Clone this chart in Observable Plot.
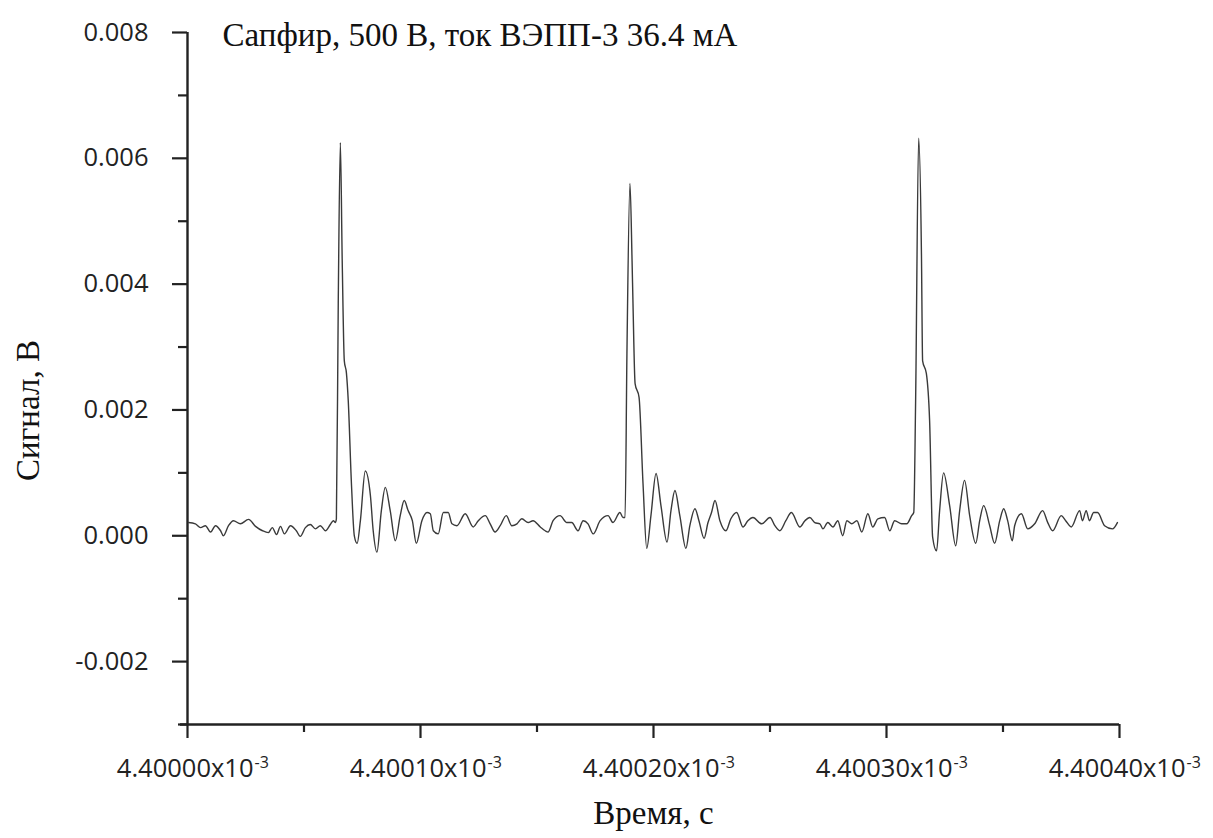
<!DOCTYPE html>
<html>
<head>
<meta charset="utf-8">
<script src="https://cdn.jsdelivr.net/npm/d3@7"></script>
<script src="https://cdn.jsdelivr.net/npm/@observablehq/plot@0.6"></script>
<style>
  html, body { margin: 0; padding: 0; background: #fff; }
  #chart svg { display: block; }
</style>
</head>
<body>
<div id="chart"></div>
<script>
// Time offset from 4.40000x10^-3 s, in nanoseconds
const timeNs = [
  0.4, 3.4, 5.6, 7.7, 9.9, 12.0, 14.2, 15.4, 17.6, 19.7, 22.7, 26.2, 29.2, 32.2, 34.7, 36.4, 38.2, 39.9, 41.6, 44.2,
  46.7, 48.4, 50.6, 52.7, 54.9, 57.0, 59.2, 61.3, 62.6, 63.5,
  63.9, 64.7, 65.6, 66.4, 67.3, 68.2, 69.0, 70.3, 71.6, 72.8, 74.2, 76.3, 78.5, 79.7, 81.3, 83.2, 84.9, 87.0, 89.2,
  91.3, 93.0, 94.7, 96.5, 98.2, 100.6, 102.8, 104.2, 105.5, 107.6, 109.8, 111.9, 113.5, 115.6, 119.2, 122.6, 124.8,
  127.8, 129.9, 132.0, 134.2, 136.8, 139.2, 141.4, 143.5, 146.2, 148.3, 151.4, 153.5, 154.8, 156.9, 159.9, 162.8,
  164.9, 167.6, 169.8, 171.9, 174.1, 177.1, 180.5, 182.6, 185.6, 186.9,
  187.8, 188.6, 189.9, 190.8, 191.2, 192.1, 193.8, 195.5, 197.1, 198.9, 201.1, 203.2, 205.8, 207.5, 209.2, 211.3,
  213.9, 215.6, 217.8, 219.5, 221.7, 223.4, 224.9, 226.4, 228.5, 231.1, 233.2, 235.7, 238.4, 240.5, 242.7, 246.4,
  250.0, 252.1, 254.2, 256.8, 259.2, 262.8, 265.0, 267.1, 269.2, 271.4,
  272.7, 274.8, 277.0, 279.1, 281.2, 283.0, 285.1, 287.3, 289.4, 292.0, 294.1, 296.3, 299.2, 301.4, 303.5, 306.5,
  308.7, 310.8,
  311.7, 312.5, 313.8, 315.0, 315.5, 317.1, 318.5, 319.8, 321.5, 322.8, 324.5, 327.1, 329.7, 331.4, 333.5, 335.7,
  338.3, 340.0, 341.7, 344.3, 346.4, 348.6, 350.3, 352.0, 354.0, 355.0, 357.9, 360.6, 363.6, 367.0, 369.2, 371.3,
  375.0, 376.9, 379.3, 382.9, 384.1, 385.7, 387.1, 388.9, 390.6, 393.6, 397.0, 399.1
];
// Signal, V
const signalV = [
  0.00021, 0.00019, 0.00013, 0.00016, 0.00006, 0.00016, 0.00008, 0.00000, 0.00016, 0.00024, 0.00019, 0.00026, 0.00015, 0.00008, 0.00005, 0.00013, 0.00002, 0.00015, 0.00003, 0.00016,
  0.00008, -0.00001, 0.00013, 0.00018, 0.00011, 0.00016, 0.00008, 0.00018, 0.00024, 0.00021,
  0.00027, 0.0037, 0.00625, 0.00437, 0.00278, 0.00259, 0.00214, 0.00088, 0.0000, -0.00012, 0.00024, 0.00103, 0.00064, 0.00008, -0.00026, 0.0004, 0.00077, 0.0004, -0.00008,
  0.00032, 0.00056, 0.0004, 0.00024, -0.00012, 0.00024, 0.00037, 0.00035, 0.00008, 0.00003, 0.00037, 0.00037, 0.00019, 0.00016, 0.00035, 0.00014, 0.00024,
  0.00032, 0.00019, 0.00006, 0.00016, 0.00032, 0.00016, 0.00019, 0.00027, 0.00021, 0.00024, 0.00014, 0.00008, 0.00006, 0.00024, 0.00032, 0.00021,
  0.00021, 0.00008, 0.00024, 0.00019, 0.00003, 0.00024, 0.00032, 0.00021, 0.00037, 0.00029,
  0.00029, 0.0029, 0.0056, 0.00437, 0.00369, 0.00242, 0.0022, 0.00083, -0.0002, 0.00032, 0.00099, 0.00048, -0.0001, 0.0004, 0.00072, 0.00032,
  -0.0002, 0.00016, 0.00043, 0.00024, -0.00004, 0.00021, 0.00037, 0.00056, 0.00024, 0.00008, 0.00027, 0.00037, 0.00014, 0.00024, 0.00029, 0.00019,
  0.00029, 0.00016, 0.00008, 0.00024, 0.00037, 0.00014, 0.00024, 0.00029, 0.00021, 0.00019,
  0.00011, 0.00021, 0.00014, 0.00024, 0.0, 0.00024, 0.00019, 0.00024, 0.00006, 0.00035, 0.00014, 0.00027, 0.00029, 0.00008, 0.00024, 0.00019,
  0.00019, 0.00032,
  0.00037, 0.00215, 0.00632, 0.00448, 0.00278, 0.00258, 0.00183, -0.00002, -0.00024, 0.0004, 0.001, 0.00048, -0.00016, 0.0004, 0.00088, 0.00032,
  -0.00012, 0.00024, 0.00048, 0.00016, -0.00012, 0.00024, 0.00043, 0.00024, -0.00008, 0.00016, 0.00035, 0.00011, 0.00019, 0.0004, 0.00021, 0.00008,
  0.00032, 0.00024, 0.00014, 0.0004, 0.00024, 0.0004, 0.00024, 0.00037, 0.00037, 0.00016, 0.00011, 0.00021
];

const xMajorTicks = [0, 100, 200, 300, 400];
const xMinorTicks = [50, 150, 250, 350];
const yMajorTicks = [-0.002, 0, 0.002, 0.004, 0.006, 0.008];
const yMinorTicks = [-0.003, -0.001, 0.001, 0.003, 0.005, 0.007];
const xDomain = [0, 400];
const yDomain = [-0.003, 0.008];

const titleText = "Сапфир, 500 В, ток ВЭПП-3 36.4 мА";
const xLabelText = "Время, с";
const yLabelText = "Сигнал, В";
const xTickExponent = "-3";

const data = timeNs.map((t, i) => ({t, v: signalV[i]}));

const axisColor = "#222";
const sansFont = "'Open Sans', sans-serif";
const serifFont = "'Liberation Serif', 'Times New Roman', serif";

const chart = Plot.plot({
  width: 1213,
  height: 838,
  marginLeft: 187,
  marginRight: 94,
  marginTop: 32,
  marginBottom: 114,
  x: {domain: xDomain},
  y: {domain: yDomain},
  style: {fontFamily: sansFont, color: axisColor, background: "#fff"},
  marks: [
    // axis lines
    Plot.ruleX([xDomain[0]], {y1: yDomain[0], y2: yDomain[1], stroke: axisColor, strokeWidth: 2.4}),
    Plot.ruleY([yDomain[0]], {stroke: axisColor, strokeWidth: 2.4, insetLeft: -7}),
    // y ticks
    Plot.axisY({ticks: yMajorTicks, tickSize: 15, tickPadding: 24, strokeWidth: 2.2, stroke: axisColor,
      tickFormat: d => d.toFixed(3), fontSize: 25.5, fill: "#222", label: null}),
    Plot.axisY({ticks: yMinorTicks, tickSize: 9, strokeWidth: 2.2, stroke: axisColor,
      tickFormat: () => "", label: null}),
    // x ticks
    Plot.axisX({ticks: xMajorTicks, tickSize: 14, strokeWidth: 2.2, stroke: axisColor,
      tickFormat: () => "", label: null}),
    Plot.axisX({ticks: xMinorTicks, tickSize: 8, strokeWidth: 2.2, stroke: axisColor,
      tickFormat: () => "", label: null}),
    // x tick labels with superscript exponent
    Plot.text(xMajorTicks, {x: d => d, frameAnchor: "bottom", dy: 52, dx: 66, textAnchor: "end",
      text: d => (4.4 + d * 1e-6).toFixed(5) + "x10", fontSize: 25.5, fill: "#222"}),
    Plot.text(xMajorTicks, {x: d => d, frameAnchor: "bottom", dy: 43, dx: 67, textAnchor: "start",
      text: () => xTickExponent, fontSize: 16, fill: "#222"}),
    // signal
    Plot.line(data, {x: "t", y: "v", stroke: "#3a3a3a", strokeWidth: 1.4, curve: "monotone-x"}),
    // title
    Plot.text([titleText], {frameAnchor: "top-left", dx: 35, dy: -10, text: d => d, textAnchor: "start",
      fontFamily: serifFont, fontSize: 33, fill: "#111"}),
    // axis labels
    Plot.text([xLabelText], {frameAnchor: "bottom", dy: 99, text: d => d, textAnchor: "middle",
      fontFamily: serifFont, fontSize: 33, fill: "#111"}),
    Plot.text([yLabelText], {frameAnchor: "left", dx: -159, dy: 32, rotate: -90, text: d => d, textAnchor: "middle",
      fontFamily: serifFont, fontSize: 33, fill: "#111"})
  ]
});

document.getElementById("chart").appendChild(chart);
</script>
</body>
</html>
